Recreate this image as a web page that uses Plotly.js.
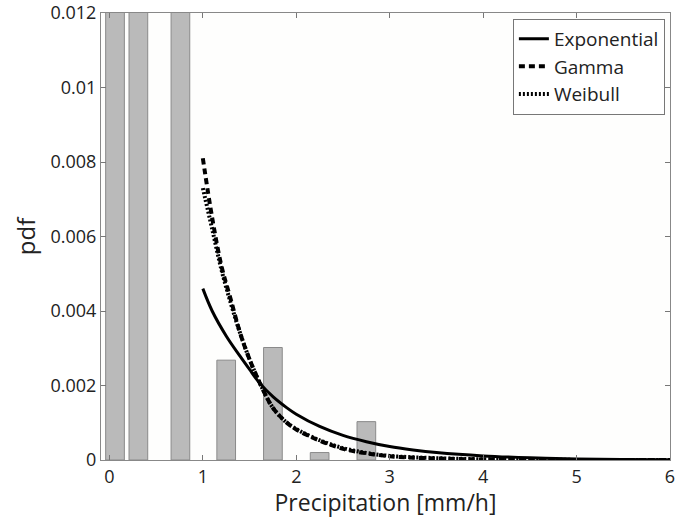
<!DOCTYPE html>
<html>
<head>
<meta charset="utf-8">
<script src="https://cdn.plot.ly/plotly-3.0.1.min.js"></script>
<style>html,body{margin:0;padding:0;background:#fff;}#chart{width:697px;height:518px;}</style>
</head>
<body>
<div id="chart"></div>
<script>
// Histogram bars (first three are clipped above the axis limit)
const barX = [0.06, 0.31, 0.76, 1.25, 1.75, 2.25, 2.75];
const barY = [0.03, 0.03, 0.03, 0.00268, 0.00302, 0.00020, 0.00103];

// Fitted curves
const expX = [1.0, 1.1, 1.25, 1.4, 1.5, 1.6, 1.75, 1.9, 2.0, 2.25, 2.5, 2.75, 3.0, 3.25, 3.5, 4.0, 4.5, 5.0, 5.5, 6.0];
const expY = [0.0046, 0.0040, 0.00333, 0.00278, 0.00243, 0.00209, 0.00170, 0.00140, 0.00123, 0.00090, 0.00066, 0.00049, 0.00036, 0.00027, 0.00020, 0.00011, 0.00006, 0.00003, 0.000015, 0.000008];

const gamX = [1.0, 1.1, 1.2, 1.3, 1.4, 1.5, 1.6, 1.75, 1.9, 2.0, 2.25, 2.5, 2.75, 3.0, 3.5, 4.0, 4.5, 5.0, 5.5, 6.0];
const gamY = [0.0081, 0.0065, 0.0052, 0.0043, 0.0034, 0.0027, 0.00212, 0.0014, 0.00100, 0.00082, 0.00052, 0.00030, 0.00018, 0.00010, 0.00004, 0.000015, 0.000006, 0.000002, 0.000001, 0.0];

const weiX = [1.0, 1.1, 1.2, 1.3, 1.4, 1.5, 1.6, 1.75, 1.9, 2.0, 2.25, 2.5, 2.75, 3.0, 3.5, 4.0, 4.5, 5.0, 5.5, 6.0];
const weiY = [0.0073, 0.0062, 0.0051, 0.0042, 0.0034, 0.0027, 0.00212, 0.0014, 0.00100, 0.00083, 0.00053, 0.00032, 0.00019, 0.00011, 0.00005, 0.00002, 0.000008, 0.000003, 0.000001, 0.0];

const xTicks = [0, 1, 2, 3, 4, 5, 6];
const yTicks = [0, 0.002, 0.004, 0.006, 0.008, 0.01, 0.012];
const yTickText = ['0', '0.002', '0.004', '0.006', '0.008', '0.01', '0.012'];

const FONT = 'Open Sans, Noto Sans, sans-serif';

const traces = [
  {type: 'bar', x: barX, y: barY, width: 0.2, showlegend: false,
   marker: {color: '#bababa', line: {color: '#8a8a8a', width: 1}}},
  {type: 'scatter', mode: 'lines', x: expX, y: expY, name: 'Exponential',
   line: {color: '#000', width: 3, shape: 'spline'}},
  {type: 'scatter', mode: 'lines', x: gamX, y: gamY, name: 'Gamma',
   line: {color: '#000', width: 4, dash: '6px,4px', shape: 'spline'}},
  {type: 'scatter', mode: 'lines', x: weiX, y: weiY, name: 'Weibull',
   line: {color: '#000', width: 4, dash: '2px,2px', shape: 'spline'}}
];

const layout = {
  width: 697, height: 518,
  margin: {l: 101, r: 27, t: 13, b: 58},
  paper_bgcolor: '#ffffff',
  plot_bgcolor: '#fefefd',
  font: {family: FONT, color: '#222'},
  showlegend: true,
  legend: {x: 0.991, y: 0.987, xanchor: 'right', yanchor: 'top',
    bgcolor: '#ffffff', bordercolor: '#777', borderwidth: 1,
    font: {family: FONT, size: 19, color: '#222'}, tracegroupgap: 0, itemwidth: 30},
  xaxis: {range: [-0.09, 6], tickvals: xTicks, ticks: 'inside', ticklen: 5,
    tickcolor: '#777', showline: true, linecolor: '#888', linewidth: 1, mirror: 'ticks',
    showgrid: false, zeroline: false, tickfont: {family: FONT, size: 18, color: '#222'},
    title: {text: 'Precipitation [mm/h]', font: {family: FONT, size: 23, color: '#222'}, standoff: 6}},
  yaxis: {range: [0, 0.012], tickvals: yTicks, ticktext: yTickText, ticks: 'inside', ticklen: 5,
    tickcolor: '#777', showline: true, linecolor: '#888', linewidth: 1, mirror: 'ticks',
    showgrid: false, zeroline: false, tickfont: {family: FONT, size: 18, color: '#222'},
    title: {text: 'pdf', font: {family: FONT, size: 24, color: '#222'}, standoff: 8}}
};

Plotly.newPlot('chart', traces, layout, {displayModeBar: false, staticPlot: true});
</script>
</body>
</html>
